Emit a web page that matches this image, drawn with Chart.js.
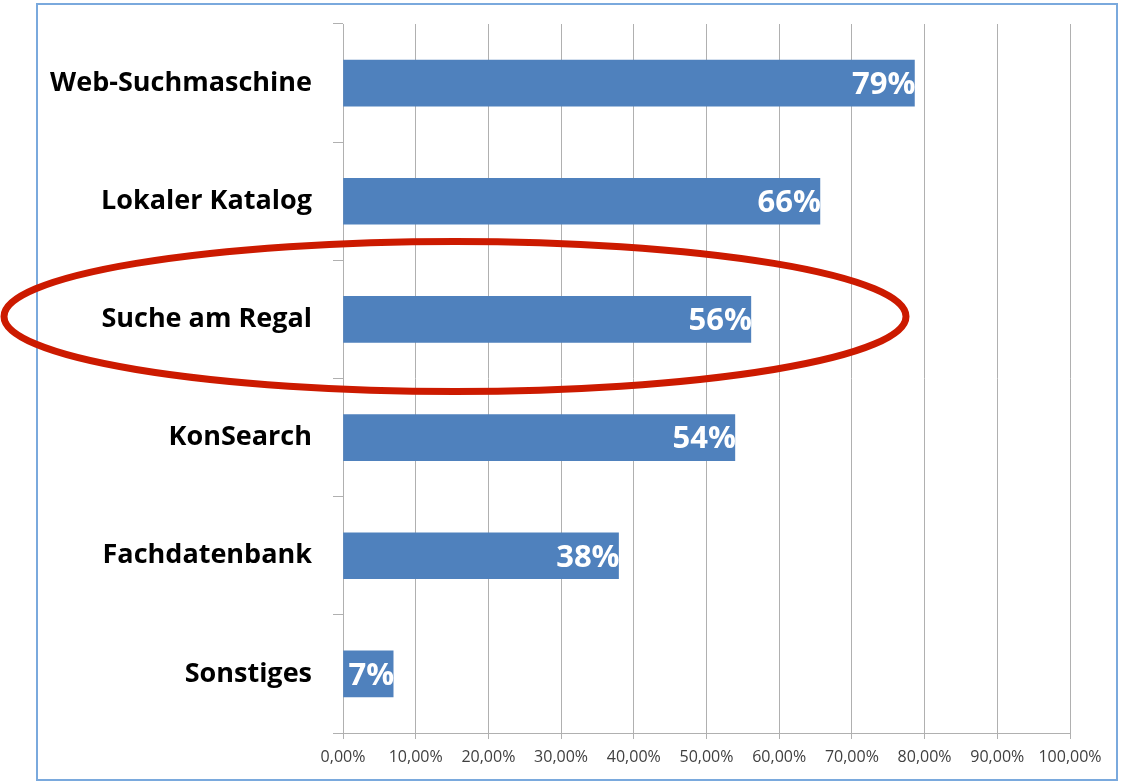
<!DOCTYPE html>
<html>
<head>
<meta charset="utf-8">
<script src="https://cdn.jsdelivr.net/npm/chart.js@4"></script>
<style>
  html, body { margin: 0; padding: 0; background: #fff; }
  #wrap { width: 1122px; height: 783px; position: relative; }
</style>
</head>
<body>
<div id="wrap"><canvas id="suche_chart" width="1122" height="783"></canvas></div>
<script>
const kategorien = ['Web-Suchmaschine', 'Lokaler Katalog', 'Suche am Regal', 'KonSearch', 'Fachdatenbank', 'Sonstiges'];
const anteile = [0.786, 0.656, 0.561, 0.539, 0.379, 0.069];
const balkenLabels = ['79%', '66%', '56%', '54%', '38%', '7%'];
const markiert = 2; // "Suche am Regal" eingekreist

// Rahmen um das Diagramm
const rahmen = {
    id: 'rahmen',
    beforeDraw(chart) {
        const ctx = chart.ctx;
        ctx.save();
        ctx.fillStyle = '#fff';
        ctx.fillRect(0, 0, chart.width, chart.height);
        ctx.strokeStyle = '#7aa9dd';
        ctx.lineWidth = 2;
        ctx.strokeRect(37, 4, 1080, 776);
        ctx.restore();
    }
};

// Prozentwerte in den Balken
const balkenText = {
    id: 'balkenText',
    afterDatasetsDraw(chart) {
        const ctx = chart.ctx;
        const meta = chart.getDatasetMeta(0);
        ctx.save();
        ctx.font = 'bold 31px "Open Sans"';
        ctx.fillStyle = '#fff';
        ctx.textAlign = 'right';
        ctx.textBaseline = 'middle';
        meta.data.forEach((bar, i) => {
            ctx.fillText(balkenLabels[i], bar.x + 1, bar.y + 2);
        });
        ctx.restore();
    }
};

// rote Ellipse um "Suche am Regal"
const ellipse = {
    id: 'ellipse',
    afterDraw(chart) {
        const ctx = chart.ctx;
        const y = chart.scales.y.getPixelForValue(markiert);
        const area = chart.chartArea;
        ctx.save();
        ctx.strokeStyle = '#cc1a00';
        ctx.lineWidth = 7;
        ctx.beginPath();
        ctx.ellipse(area.left + 112, y - 3, 451, 75, 0, 0, Math.PI * 2);
        ctx.stroke();
        ctx.restore();
    }
};

const chart1 = document.getElementById('suche_chart');

new Chart(chart1, {
    type: 'bar',
    data: {
        labels: kategorien,
        datasets: [{
            label: 'Anteil',
            data: anteile,
            backgroundColor: '#4f81bd',
            borderWidth: 0,
            barThickness: 46
        }]
    },
    options: {
        indexAxis: 'y',
        responsive: false,
        animation: false,
        layout: {
            padding: { left: 0, right: 52, top: 24, bottom: 0 }
        },
        scales: {
            x: {
                min: 0,
                max: 1,
                ticks: {
                    stepSize: 0.1,
                    padding: 9,
                    maxRotation: 0,
                    minRotation: 0,
                    autoSkip: false,
                    color: '#404040',
                    font: { family: '"Open Sans"', size: 16 },
                    callback: v => (v * 100).toFixed(2).replace('.', ',') + '%'
                },
                grid: {
                    color: '#b0b0b0',
                    lineWidth: 1,
                    tickLength: 6
                },
                border: { color: '#b0b0b0' },
                afterFit: s => { s.height = 50; s.paddingLeft = 0; s.paddingRight = 0; }
            },
            y: {
                ticks: {
                    padding: 21,
                    color: '#000',
                    font: { family: '"Open Sans"', size: 27, weight: 'bold' }
                },
                grid: {
                    offset: true,
                    drawOnChartArea: false,
                    color: '#b0b0b0',
                    tickLength: 10
                },
                border: { color: '#b0b0b0' },
                afterFit: s => { s.width = 343; s.paddingTop = 0; s.paddingBottom = 0; }
            }
        },
        plugins: {
            legend: { display: false },
            tooltip: { enabled: false }
        }
    },
    plugins: [rahmen, balkenText, ellipse]
});
</script>
</body>
</html>
